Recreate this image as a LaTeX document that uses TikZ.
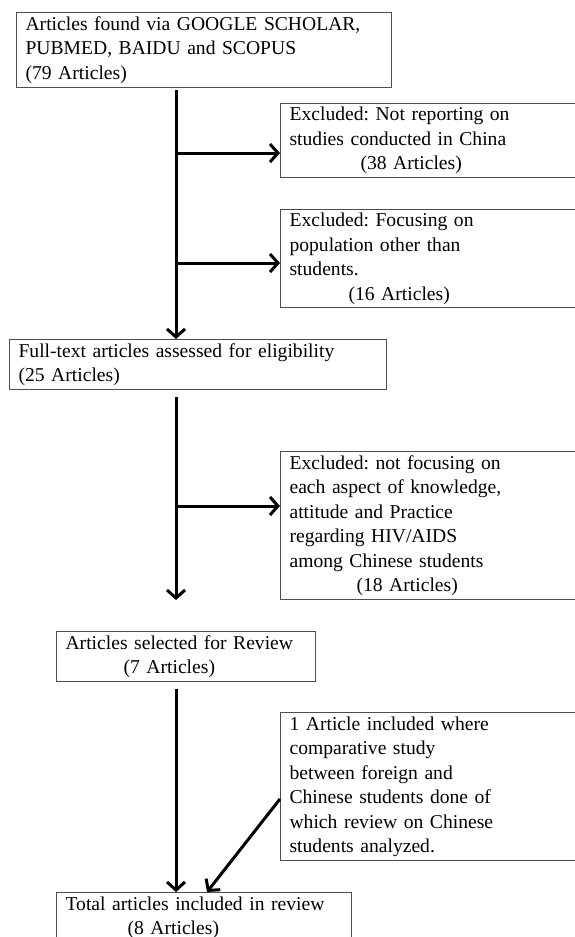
\documentclass[tikz,border=0pt]{standalone}
\usepackage{fontspec}
\setmainfont{Liberation Serif}
\usetikzlibrary{arrows.meta, positioning, calc}
\definecolor{boxgray}{HTML}{4D4D4D}
\frenchspacing

\begin{document}
\begin{tikzpicture}[
    box/.style={
        draw=boxgray,
        line width=0.6pt,
        anchor=north west,
        align=left,
        inner xsep=4.5pt,
        inner ysep=0pt,
        font=\fontsize{9.8}{12.25}\selectfont
    },
    arrow/.style={
        -{Straight Barb[length=4pt,width=9pt]},
        line width=1.5pt,
        color=black
    }
]

% Frame
\useasboundingbox (0,0) rectangle (10.087,-16.466);

% Main column
\node[box, text width=6.274cm, minimum height=1.318cm] (found) at (0.281,-0.211) {
    Articles found via GOOGLE SCHOLAR,\\
    PUBMED, BAIDU and SCOPUS\\
    (79 Articles)
};

\node[box, text width=6.309cm, minimum height=0.879cm] (full) at (0.158,-5.957) {
    Full-text articles assessed for eligibility\\
    (25 Articles)
};

\node[box, text width=4.235cm, minimum height=0.879cm] (selected) at (0.984,-11.089) {
    Articles selected for Review\\
    \hspace*{29pt}(7 Articles)
};

\node[box, text width=4.868cm, minimum height=0.879cm] (total) at (0.984,-15.675) {
    Total articles included in review\\
    \hspace*{31pt}(8 Articles)
};

% Side boxes
\node[box, text width=4.956cm, minimum height=1.300cm] (excl1) at (4.920,-1.810) {
    Excluded: Not reporting on\\
    studies conducted in China\\
    \hspace*{35.5pt}(38 Articles)
};

\node[box, text width=4.956cm, minimum height=1.722cm] (excl2) at (4.920,-3.673) {
    Excluded: Focusing on\\
    population other than\\
    students.\\
    \hspace*{29.5pt}(16 Articles)
};

\node[box, text width=4.956cm, minimum height=2.601cm] (excl3) at (4.920,-7.925) {
    Excluded: not focusing on\\
    each aspect of knowledge,\\
    attitude and Practice\\
    regarding HIV/AIDS\\
    among Chinese students\\
    \hspace*{33.5pt}(18 Articles)
};

\node[box, text width=4.956cm, minimum height=2.601cm] (incl) at (4.920,-12.512) {
    1 Article included where\\
    comparative study\\
    between foreign and\\
    Chinese students done of\\
    which review on Chinese\\
    students analyzed.
};

% Arrows
\coordinate (spine) at (3.093,0);
\coordinate (fork1) at (3.093,-2.689);
\coordinate (fork2) at (3.093,-4.622);
\coordinate (fork3) at (3.093,-8.892);
\coordinate (side) at (4.920,-14.041);
\coordinate (merge) at (3.638,-15.675);

\draw[arrow, shorten <=1pt] (found.south -| spine) -- (full.north -| spine);
\draw[arrow] (fork1) -- (fork1 -| excl1.west);
\draw[arrow] (fork2) -- (fork2 -| excl2.west);
\draw[arrow, shorten <=3.5pt, shorten >=15.5pt] (full.south -| spine) -- (selected.north -| spine);
\draw[arrow] (fork3) -- (fork3 -| excl3.west);
\draw[arrow, shorten <=3.5pt] (selected.south -| spine) -- (total.north -| spine);
\draw[arrow] (incl.west |- side) -- (total.north -| merge);

\end{tikzpicture}
\end{document}
